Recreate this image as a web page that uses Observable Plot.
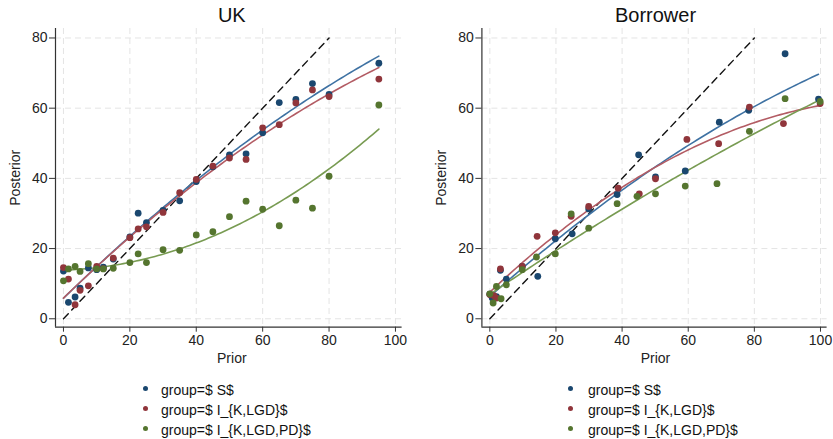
<!DOCTYPE html>
<html><head><meta charset="utf-8">
<script src="https://cdn.jsdelivr.net/npm/d3@7"></script>
<script src="https://cdn.jsdelivr.net/npm/@observablehq/plot@0.6"></script>
<style>
body{margin:0;background:#fff;font-family:"Liberation Sans",Arial,sans-serif;}
#wrap{position:relative;width:833px;height:439px;overflow:hidden;background:#fff}
.panel{position:absolute;top:0}
.row{position:absolute;white-space:nowrap;font-size:14px;color:#111;line-height:16px}
.dot{position:absolute;width:5px;height:5px;border-radius:50%}
</style></head><body><div id="wrap"></div>
<script>
// ---------- data ----------
const groups = ["group=$ S$", "group=$ I_{K,LGD}$", "group=$ I_{K,LGD,PD}$"];
const dotColors = ["#1a476f", "#90353b", "#55752f"];
const lineColors = ["#3f72a3", "#b35c64", "#789b52"];
const xTicks = [0, 20, 40, 60, 80, 100];
const yTicks = [0, 20, 40, 60, 80];
const refLine = [0, 80];

// UK panel
const ukPrior = [0, 1.5, 3.5, 5, 7.5, 10, 12, 15, 20, 22.5, 25, 30, 35, 40, 45, 50, 55, 60, 65, 70, 75, 80, 95];
const ukS     = [13.6, 4.7, 6.2, 8.7, 14.5, 14.0, 14.7, 17.0, 23.3, 30.1, 27.4, 30.9, 33.6, 39.1, 43.3, 46.7, 47.0, 53.0, 61.6, 62.5, 67.0, 63.9, 72.8];
const ukLGD   = [14.6, 11.3, 4.0, 8.1, 9.4, 14.9, 14.3, 17.3, 23.1, 25.6, 26.2, 30.3, 35.9, 39.7, 43.5, 45.8, 45.4, 54.4, 55.3, 61.5, 65.2, 63.3, 68.3];
const ukPD    = [10.8, 14.2, 14.9, 13.5, 15.7, 14.2, 14.2, 14.4, 16.0, 18.5, 16.0, 19.7, 19.5, 23.9, 24.8, 29.1, 33.5, 31.2, 26.5, 33.8, 31.5, 40.6, 60.9];

// Borrower panel
const brPriorS   = [0, 0.7, 2, 3.2, 5, 9.8, 14.5, 19.8, 24.9, 29.9, 38.5, 45, 50.1, 59.1, 69.4, 78.3, 89.3, 99.4];
const brS        = [7.0, 6.0, 6.3, 13.8, 11.3, 14.9, 12.1, 22.8, 24.2, 31.3, 35.4, 46.7, 40.4, 42.1, 56.0, 59.4, 75.5, 62.6];
const brPriorLGD = [0, 1.2, 2, 3.2, 9.8, 14.3, 19.8, 24.6, 29.9, 38.8, 45.2, 50.1, 59.6, 69.2, 78.5, 88.8, 99.9];
const brLGD      = [6.9, 6.6, 5.9, 14.2, 14.9, 23.5, 24.5, 29.2, 32.0, 37.2, 35.6, 39.9, 51.1, 49.9, 60.3, 55.6, 61.3];
const brPriorPD  = [0, 1, 2, 3.4, 5, 9.8, 14.1, 19.8, 24.6, 29.9, 38.5, 44.5, 50.1, 59.1, 68.7, 78.5, 89.3, 99.9];
const brPD       = [7.1, 4.5, 9.2, 5.7, 9.7, 14.0, 17.6, 18.5, 29.9, 25.8, 32.8, 34.9, 35.6, 37.8, 38.5, 53.4, 62.7, 61.9];

// ---------- helpers ----------
function qfit(xs, ys) {
  const S = [0,0,0,0,0], T = [0,0,0];
  xs.forEach((x, i) => {
    for (let k = 0; k < 5; k++) S[k] += Math.pow(x, k);
    for (let k = 0; k < 3; k++) T[k] += ys[i] * Math.pow(x, k);
  });
  const A = [[S[0],S[1],S[2],T[0]],[S[1],S[2],S[3],T[1]],[S[2],S[3],S[4],T[2]]];
  for (let c = 0; c < 3; c++) {
    for (let r = c + 1; r < 3; r++) {
      const f = A[r][c] / A[c][c];
      for (let k = c; k < 4; k++) A[r][k] -= f * A[c][k];
    }
  }
  const b = [0,0,0];
  for (let r = 2; r >= 0; r--) {
    let s = A[r][3];
    for (let k = r + 1; k < 3; k++) s -= A[r][k] * b[k];
    b[r] = s / A[r][r];
  }
  const lo = d3.min(xs), hi = d3.max(xs);
  return d3.range(0, 101).map(i => {
    const x = lo + (hi - lo) * i / 100;
    return {x, y: b[0] + b[1] * x + b[2] * x * x};
  });
}

function panel({title, series, width, mLeft, mRight, dxTitle}) {
  const pts = series.flatMap((s, g) => s.x.map((x, i) => ({x, y: s.y[i], g})));
  const fits = series.flatMap((s, g) => qfit(s.x, s.y).map(d => ({...d, g})));
  return Plot.plot({
    width, height: 370,
    marginLeft: mLeft, marginRight: mRight, marginTop: 28, marginBottom: 43.3,
    x: {domain: [-2.4, 102], label: null},
    y: {domain: [-2.4, 82.7], label: null},
    style: {fontFamily: "'Liberation Sans', Arial, sans-serif", fontSize: "14px", color: "#222", background: "white", overflow: "visible"},
    marks: [
      Plot.gridX(xTicks, {stroke: "#e4e4e4", strokeOpacity: 1, strokeDasharray: "6,4"}),
      Plot.gridY(yTicks, {stroke: "#e4e4e4", strokeOpacity: 1, strokeDasharray: "6,4"}),
      Plot.axisY(yTicks, {tickSize: 6, tickPadding: 2, fontSize: 14, label: null, stroke: "#333"}),
      Plot.axisX(xTicks, {tickSize: 5, tickPadding: 3, fontSize: 14, label: null, stroke: "#333"}),
      Plot.ruleX([-2.4], {stroke: "#333", strokeWidth: 1.2}),
      Plot.ruleY([-2.4], {stroke: "#333", strokeWidth: 1.2}),
      Plot.line(refLine, {x: d => d, y: d => d, stroke: "#111", strokeWidth: 1.4, strokeDasharray: "7,5"}),
      Plot.line(fits, {x: "x", y: "y", z: "g", stroke: d => lineColors[d.g], strokeWidth: 1.6}),
      Plot.dot(pts, {x: "x", y: "y", fill: d => dotColors[d.g], r: 3.4, stroke: "none"}),
      Plot.text([title], {frameAnchor: "top", lineAnchor: "middle", text: d => d, dy: -12.5, dx: dxTitle, fontSize: 20, fill: "#111"}),
      Plot.text(["Posterior"], {frameAnchor: "left", lineAnchor: "middle", textAnchor: "middle", text: d => d, dx: -40, rotate: -90, fontSize: 14, fill: "#222"}),
      Plot.text(["Prior"], {frameAnchor: "bottom", lineAnchor: "middle", text: d => d, dy: 31.5, dx: dxTitle, fontSize: 14, fill: "#222"})
    ]
  });
}

const wrap = document.getElementById("wrap");
function place(el, left) {
  const d = document.createElement("div");
  d.className = "panel"; d.style.left = left + "px";
  d.appendChild(el); wrap.appendChild(d);
}
place(panel({title: "UK", width: 416, mLeft: 55, mRight: 14.4, dxTitle: 3,
  series: [{x: ukPrior, y: ukS}, {x: ukPrior, y: ukLGD}, {x: ukPrior, y: ukPD}]}), 0);
place(panel({title: "Borrower", width: 417, mLeft: 65.4, mRight: 6.4, dxTitle: 1,
  series: [{x: brPriorS, y: brS}, {x: brPriorLGD, y: brLGD}, {x: brPriorPD, y: brPD}]}), 416);

// legends
const rowsY = [390, 410, 430];
function legend(dotX, textX) {
  groups.forEach((g, i) => {
    const dot = document.createElement("div");
    dot.className = "dot"; dot.style.background = dotColors[i];
    dot.style.left = (dotX - 2.5) + "px"; dot.style.top = (rowsY[i] - 2.5 - 1.5) + "px";
    wrap.appendChild(dot);
    const t = document.createElement("div");
    t.className = "row"; t.textContent = g;
    t.style.left = textX + "px"; t.style.top = (rowsY[i] - 8) + "px";
    wrap.appendChild(t);
  });
}
legend(145, 161);
legend(570, 588);
</script></body></html>
